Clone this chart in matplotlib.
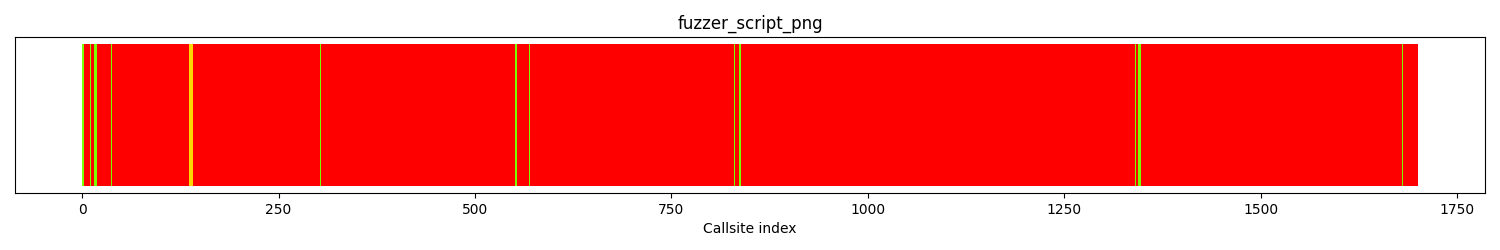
import matplotlib
matplotlib.use("Agg")
import matplotlib.pyplot as plt
import numpy as np

title = "fuzzer_script_png"
xlabel = "Callsite index"
n_callsites = 1701
green_idx = [0, 1, 2, 11, 16, 17, 18, 37, 303, 551, 552, 553, 569, 830,
             836, 837, 838, 1341, 1344, 1345, 1346, 1347, 1681]
gold_idx = [136, 137, 138, 139, 140, 141]

colors = ["red"] * n_callsites
for i in green_idx:
    colors[i] = "lawngreen"
for i in gold_idx:
    colors[i] = "gold"
idx = np.arange(n_callsites)
heights = np.ones(n_callsites)

fig = plt.figure(figsize=(15, 2.5), dpi=100)
ax = fig.add_axes([0.01, 0.228, 0.98, 0.624])
ax.bar(idx, heights, width=1.0, color=colors, linewidth=0)
ax.set_ylim(-0.05, 1.05)
ax.set_yticks([])
ax.set_title(title)
ax.set_xlabel(xlabel)
fig.savefig("out.png", dpi=100)
